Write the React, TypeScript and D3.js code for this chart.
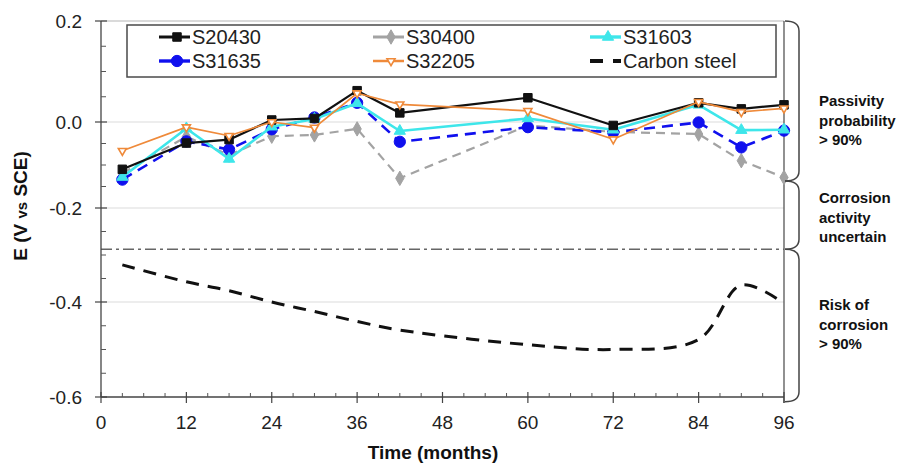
import React from 'react';
import * as d3 from 'd3';

// Exposure time (months) for every measurement
const months = [3, 12, 18, 24, 30, 36, 42, 60, 72, 84, 90, 96];

// Corrosion potential E (V vs SCE) per alloy
const s20430 = [-0.11, -0.049, -0.041, 0.004, 0.007, 0.062, 0.018, 0.048, -0.008, 0.038, 0.026, 0.034];
const s30400 = [-0.119, -0.034, -0.077, -0.033, -0.03, -0.016, -0.131, -0.008, -0.023, -0.028, -0.09, -0.129];
const s31603 = [-0.128, -0.015, -0.086, -0.011, 0.006, 0.037, -0.021, 0.007, -0.018, 0.034, -0.019, -0.018];
const s31635 = [-0.134, -0.045, -0.064, -0.017, 0.009, 0.038, -0.046, -0.012, -0.024, -0.001, -0.059, -0.02];
const s32205 = [-0.067, -0.012, -0.032, 0.0, -0.013, 0.057, 0.035, 0.022, -0.04, 0.04, 0.02, 0.027];
const carbonSteel = [-0.321, -0.357, -0.376, -0.4, -0.42, -0.441, -0.459, -0.49, -0.5, -0.479, -0.364, -0.403];

const xTicks = [0, 12, 24, 36, 48, 60, 72, 84, 96];
const yTicks = [0.2, 0.0, -0.2, -0.4, -0.6];

// Probability zones (V vs SCE)
const passiveLimit = -0.137;
const riskLimit = -0.288;
const zoneLabels = [
  ['Passivity', 'probability', '> 90%'],
  ['Corrosion', 'activity', 'uncertain'],
  ['Risk of', 'corrosion', '> 90%'],
];

const FONT = '"Liberation Sans", Arial, sans-serif';

type Series = {
  name: string;
  values: number[];
  color: string;
  width: number;
  dash?: string;
  symbol?: d3.SymbolType;
  size?: number;
  fill?: string;
  rotate?: number;
  curve?: d3.CurveFactory;
};

const series: Series[] = [
  { name: 'S30400', values: s30400, color: '#a3a3a3', width: 2.2, dash: '9 6', symbol: d3.symbolDiamond, size: 60 },
  { name: 'S31635', values: s31635, color: '#1010ee', width: 2.6, dash: '11 7', symbol: d3.symbolCircle, size: 100 },
  { name: 'S31603', values: s31603, color: '#3ee6ea', width: 2.6, symbol: d3.symbolTriangle, size: 55 },
  { name: 'S20430', values: s20430, color: '#111111', width: 2.2, symbol: d3.symbolSquare, size: 72 },
  { name: 'S32205', values: s32205, color: '#ef8a3a', width: 1.7, symbol: d3.symbolTriangle, size: 28, fill: '#fff', rotate: 180 },
  { name: 'Carbon steel', values: carbonSteel, color: '#111111', width: 3, dash: '13 9', curve: d3.curveCatmullRom },
];

const legendOrder = ['S20430', 'S30400', 'S31603', 'S31635', 'S32205', 'Carbon steel'];

export default function App() {
  const x = d3.scaleLinear().domain([0, 96]).range([101, 784]);
  const y = d3.scaleLinear().domain(yTicks).range([21, 122, 208, 302, 397]);

  const xMinor = d3.range(0, 97, 3).filter((m) => m % 12 !== 0);
  const yMinor = d3.range(-0.6, 0.2001, 0.05).filter((v) => Math.abs(Math.round(v * 100) % 20) !== 0);

  const left = x(0);
  const right = x(96);
  const top = y(0.2);
  const bottom = y(-0.6);

  const marker = (s: Series, cx: number, cy: number, key: string | number) => {
    if (!s.symbol) return null;
    const d = d3.symbol().type(s.symbol).size(s.size || 60)() || '';
    return (
      <path
        key={key}
        d={d}
        transform={`translate(${cx},${cy}) rotate(${s.rotate || 0})`}
        fill={s.fill || s.color}
        stroke={s.color}
        strokeWidth={s.fill ? 1.6 : 1}
      />
    );
  };

  const bracket = (v0: number, v1: number) => {
    const y0 = y(v0);
    const y1 = y(v1);
    const x0 = 785;
    const x1 = 799;
    const r = 10;
    return `M${x0},${y0} Q${x1},${y0} ${x1},${y0 + r} L${x1},${y1 - r} Q${x1},${y1} ${x0},${y1}`;
  };

  const zones: [number, number][] = [
    [0.2, passiveLimit],
    [passiveLimit, riskLimit],
    [riskLimit, -0.61],
  ];

  const legendCols = [159, 373, 590];
  const legendRows = [37, 61];

  return (
    <svg
      width={902}
      height={464}
      style={{ position: 'absolute', left: 0, top: 0, background: '#fff' }}
      fontFamily={FONT}
    >
      {/* grid */}
      {[0, -0.2, -0.4].map((v) => (
        <line key={v} x1={left} x2={right} y1={y(v)} y2={y(v)} stroke="#dcdcdc" strokeWidth={1.2} />
      ))}
      <line x1={left} x2={right} y1={top} y2={top} stroke="#b5b5b5" strokeWidth={1.2} />
      <line x1={right} x2={right} y1={top} y2={bottom + 6} stroke="#555" strokeWidth={1.3} />

      {/* threshold between uncertain and risk zones */}
      <line
        x1={left}
        x2={right}
        y1={y(riskLimit)}
        y2={y(riskLimit)}
        stroke="#666"
        strokeWidth={1.5}
        strokeDasharray="11 4 3 4"
      />

      {/* axes */}
      <line x1={left} x2={left} y1={top} y2={bottom} stroke="#444" strokeWidth={1.3} />
      <line x1={left} x2={right} y1={bottom} y2={bottom} stroke="#444" strokeWidth={1.3} />
      {yTicks.map((v) => (
        <g key={v}>
          <line x1={left - 6} x2={left + 6} y1={y(v)} y2={y(v)} stroke="#444" strokeWidth={1.2} />
          <text x={82} y={y(v) + 6.5} textAnchor="end" fontSize={19} fill="#222">
            {d3.format('.1f')(v).replace('−', '-')}
          </text>
        </g>
      ))}
      {yMinor.map((v) => (
        <line key={v} x1={left} x2={left + 5} y1={y(v)} y2={y(v)} stroke="#555" strokeWidth={1} />
      ))}
      {xTicks.map((m) => (
        <g key={m}>
          <line x1={x(m)} x2={x(m)} y1={bottom - 5} y2={bottom + 6} stroke="#444" strokeWidth={1.2} />
          <text x={x(m)} y={429} textAnchor="middle" fontSize={19} fill="#222">
            {m}
          </text>
        </g>
      ))}
      {xMinor.map((m) => (
        <line key={m} x1={x(m)} x2={x(m)} y1={bottom - 4} y2={bottom} stroke="#555" strokeWidth={1} />
      ))}

      <text x={433} y={459} textAnchor="middle" fontSize={19} fontWeight="bold" fill="#111">
        Time (months)
      </text>
      <text
        transform="translate(27,206) rotate(-90)"
        textAnchor="middle"
        fontSize={19}
        fontWeight="bold"
        fill="#111"
      >
        E (V <tspan fontSize={15}>vs</tspan> SCE)
      </text>

      {/* series */}
      {series.map((s) => {
        const line = d3
          .line<number>()
          .x((_, i) => x(months[i]))
          .y((v) => y(v))
          .curve(s.curve || d3.curveLinear);
        return (
          <g key={s.name}>
            <path
              d={line(s.values) || ''}
              fill="none"
              stroke={s.color}
              strokeWidth={s.width}
              strokeDasharray={s.dash}
              strokeLinejoin="round"
            />
            {s.values.map((v, i) => marker(s, x(months[i]), y(v), i))}
          </g>
        );
      })}

      {/* legend */}
      <rect x={127} y={25} width={649} height={52} fill="#fff" stroke="#4a4a4a" strokeWidth={1.5} />
      {legendOrder.map((name, i) => {
        const s = series.find((d) => d.name === name)!;
        const cx = legendCols[i % 3];
        const cy = legendRows[Math.floor(i / 3)];
        return (
          <g key={name}>
            <line
              x1={cx}
              x2={cx + 31}
              y1={cy}
              y2={cy}
              stroke={s.color}
              strokeWidth={s.width + 0.8}
              strokeDasharray={s.curve ? '13 10' : undefined}
            />
            {marker(s, cx + 18, cy, 'm')}
            <text x={cx + 33} y={cy + 7} fontSize={20} fill="#222">
              {name}
            </text>
          </g>
        );
      })}

      {/* zone brackets and labels */}
      {zones.map(([a, b], i) => (
        <path key={i} d={bracket(a, b)} fill="none" stroke="#444" strokeWidth={1.5} />
      ))}
      {zoneLabels.map((lines, i) => {
        const y0 = [101, 198, 305][i];
        return (
          <text key={i} fontSize={15} fontWeight="bold" fill="#111">
            {lines.map((t, j) => (
              <tspan key={j} x={819} y={y0 + j * 19.5 + 5}>
                {t}
              </tspan>
            ))}
          </text>
        );
      })}
    </svg>
  );
}
